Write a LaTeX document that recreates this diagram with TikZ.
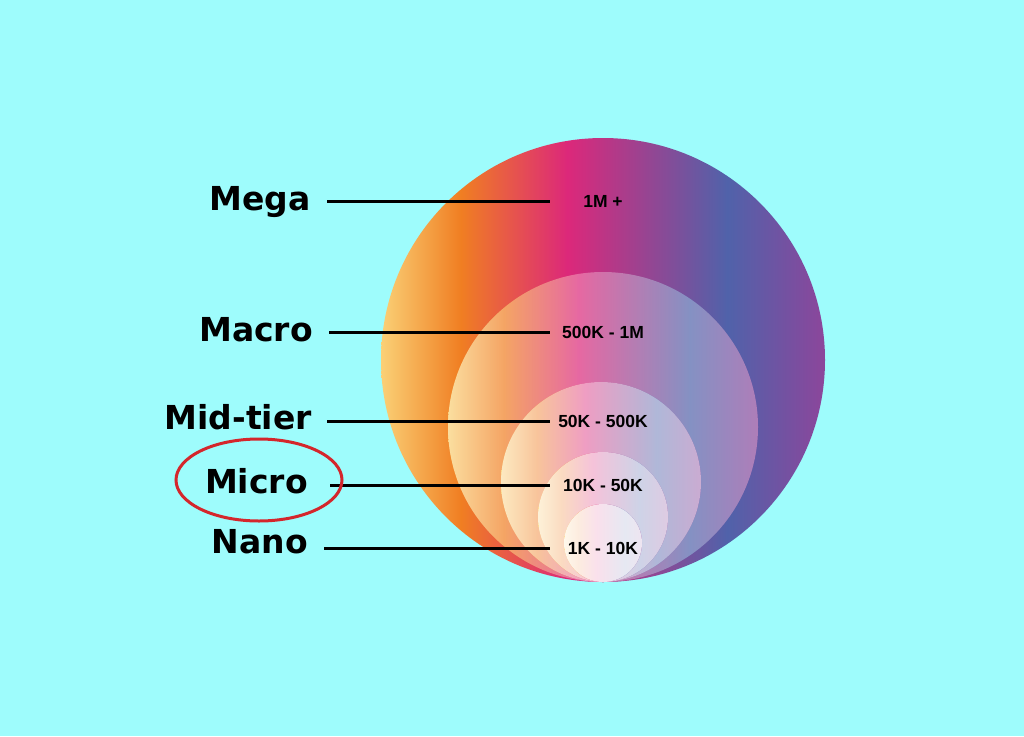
\documentclass[tikz,border=0pt]{standalone}
\usepackage{fontspec}
\setmainfont{DejaVu Sans}
\newfontfamily\rangefont{Liberation Sans}
\usetikzlibrary{positioning,shapes.geometric}

\definecolor{bgcyan}{RGB}{158,252,252}
\definecolor{ringred}{RGB}{212,38,44}
\definecolor{tierA}{RGB}{250,208,118}
\definecolor{tierB}{RGB}{240,126,34}
\definecolor{tierC}{RGB}{220,40,122}
\definecolor{tierD}{RGB}{80,98,170}
\definecolor{tierE}{RGB}{140,70,155}

\pgfdeclarehorizontalshading{tiershade}{100bp}{color(0bp)=(tierA); color(25bp)=(tierA); color(34bp)=(tierB); color(46bp)=(tierC); color(64bp)=(tierD); color(75bp)=(tierE); color(100bp)=(tierE)}

\tikzset{
  tier/.style={font=\bfseries\fontsize{33}{38}\selectfont, anchor=base east, inner sep=0pt},
  rangebox/.style={font=\rangefont\bfseries\fontsize{17.5}{20}\selectfont, minimum width=106pt, inner sep=0pt},
  lead/.style={line width=3pt, black, shorten <=16pt},
}

\begin{document}
\begin{tikzpicture}[x=1pt, y=-1pt]

%% 背景
\fill[bgcyan] (0,0) rectangle (1024,736);

%% 円
\shade[shading=tiershade] (603,360) circle[radius=222pt];
\shade[shading=tiershade] (603,427) circle[radius=155pt];
\fill[white, opacity=0.3] (603,427) circle[radius=155pt];
\shade[shading=tiershade] (601,482) circle[radius=100pt];
\fill[white, opacity=0.55] (601,482) circle[radius=100pt];
\shade[shading=tiershade] (603,517) circle[radius=65pt];
\fill[white, opacity=0.72] (603,517) circle[radius=65pt];
\shade[shading=tiershade] (603,543) circle[radius=39pt];
\fill[white, opacity=0.86] (603,543) circle[radius=39pt];

%% 区分
\node[tier] (mega) at (311,210) {Mega};
\node[tier] (macro) at (313,341) {Macro};
\node[tier] (midtier) at (312,429) {Mid-tier};
\node[tier] (micro) at (308,493) {Micro};
\node[tier] (nano) at (308,553) {Nano};

%% 範囲
\node[rangebox] (megaval) at (603,201) {1M +};
\node[rangebox] (macroval) at (603,332) {500K - 1M};
\node[rangebox] (midval) at (603,421) {50K - 500K};
\node[rangebox] (microval) at (603,485) {10K - 50K};
\node[rangebox] (nanoval) at (603,548) {1K - 10K};

%% 線
\draw[lead] (mega.east |- megaval.west) -- (megaval.west);
\draw[lead] (macro.east |- macroval.west) -- (macroval.west);
\draw[lead, shorten <=15pt] (midtier.east |- midval.west) -- (midval.west);
\draw[lead, shorten <=22pt] (micro.east |- microval.west) -- (microval.west);
\draw[lead] (nano.east |- nanoval.west) -- (nanoval.west);

%% 丸印
\node[draw=ringred, line width=3pt, ellipse, minimum width=166pt, minimum height=82pt] (ring) at (259,480) {};

\end{tikzpicture}
\end{document}
